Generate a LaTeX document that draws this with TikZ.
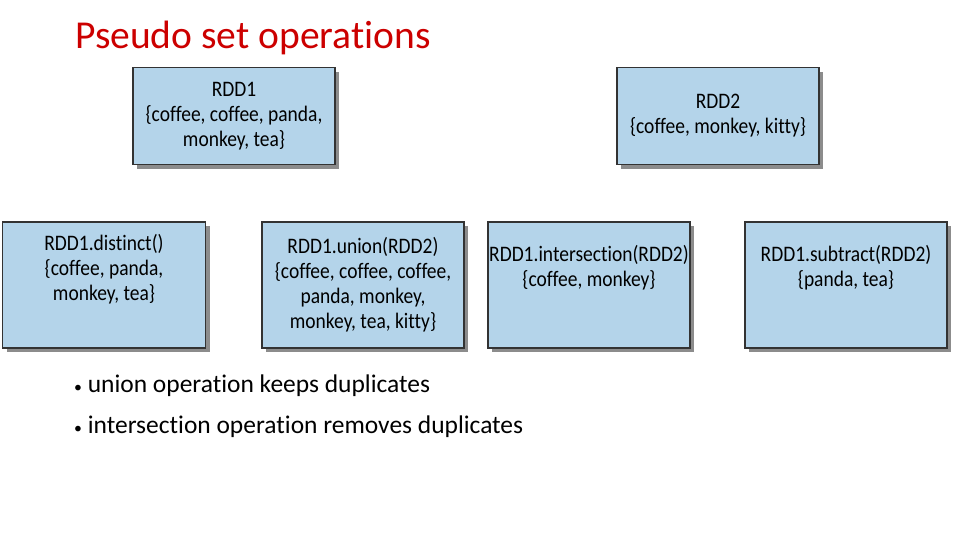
\documentclass[tikz,border=0pt]{standalone}
\usepackage{fontspec}
\usetikzlibrary{shadows}
\setmainfont[Ligatures=NoCommon]{Carlito}
\newfontfamily\boxfont[FakeStretch=0.88,Ligatures=NoCommon]{Carlito}
\definecolor{boxblue}{RGB}{180,212,234}
\definecolor{titlered}{RGB}{204,0,0}
\begin{document}
\begin{tikzpicture}[x=0.02cm,y=-0.02cm,
  rdd/.style={draw=black!80,line width=0.9pt,fill=boxblue,inner sep=0pt,
    minimum width=202*0.02cm,align=center,font=\boxfont\fontsize{12.6}{14.2}\selectfont,
    general shadow={fill=black!45,shadow xshift=2.5pt,shadow yshift=-2.5pt}},
  bul/.style={anchor=west,font=\fontsize{14.5}{17}\selectfont}]
\useasboundingbox (0,0) rectangle (960,540);
\node[anchor=west,text=titlered,font=\fontsize{22.5}{26}\selectfont] (title) at (69,38) {Pseudo set operations};
\node[rdd,minimum height=97*0.02cm] (r1) at (234,116) {RDD1\\\{coffee, coffee, panda,\\monkey, tea\}};
\node[rdd,minimum height=97*0.02cm] (r2) at (718,116) {RDD2\\\{coffee, monkey, kitty\}};
\node[rdd,minimum height=126*0.02cm,minimum width=203*0.02cm] (d) at (104,285) {RDD1.distinct()\\\{coffee, panda,\\monkey, tea\}\\[6pt]};
\node[rdd,minimum height=126*0.02cm] (u) at (363,285) {RDD1.union(RDD2)\\\{coffee, coffee, coffee,\\panda, monkey,\\monkey, tea, kitty\}};
\node[rdd,minimum height=126*0.02cm] (i) at (589,285) {RDD1.intersection(RDD2)\\\{coffee, monkey\}\\[7pt]};
\node[rdd,minimum height=126*0.02cm] (s) at (846,285) {RDD1.subtract(RDD2)\\\{panda, tea\}\\[7pt]};
\node[bul] (b1) at (68,386) {{\small\textbullet}\ union operation keeps duplicates};
\node[bul] (b2) at (68,427) {{\small\textbullet}\ intersection operation removes duplicates};
\end{tikzpicture}
\end{document}
